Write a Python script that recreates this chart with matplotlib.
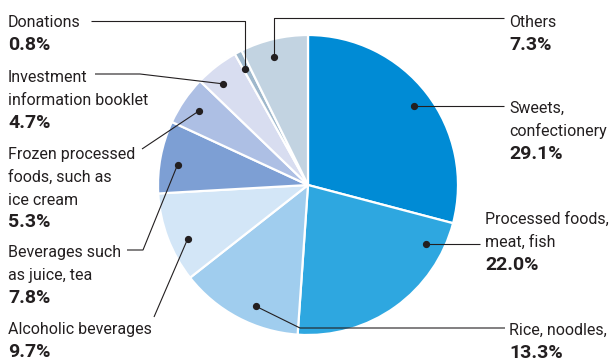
import numpy as np
import matplotlib
matplotlib.use("Agg")
from matplotlib import pyplot as plt

# Share of items by category, clockwise from 12 o'clock
categories = ["Sweets,\nconfectionery", "Processed foods,\nmeat, fish", "Rice, noodles,",
              "Alcoholic beverages", "Beverages such\nas juice, tea",
              "Frozen processed\nfoods, such as\nice cream",
              "Investment\ninformation booklet", "Donations", "Others"]
shares = [29.1, 22.0, 13.3, 9.7, 7.8, 5.3, 4.7, 0.8, 7.3]
colors = ["#008bd5", "#2ea7e0", "#a0cdee", "#d3e6f7", "#7d9fd4",
          "#adbfe4", "#d8ddf0", "#9fb8cc", "#c2d3e1"]

# where the leader dot sits inside each wedge (fraction of its sweep)
dot_frac = [0.51, 0.15, 0.40, 0.40, 0.43, 0.48, 0.36, 0.3, 0.43]

# label layout in pixels from the top-left corner
text_x = [509, 485, 509, 8, 8, 8, 8, 8, 509]
text_base = [113, 224, 335, 334, 257, 159, 82, 27, 27]
leaders = [
    [(504, None)],
    [(480, None)],
    [(300, 328), (505, 328)],
    [(154, 317)],
    [(143, 250), (127, 250)],
    [(142, 149)],
    [(140, 74), (95, 74)],
    [(None, 21), (91, 21)],
    [(None, 18), (504, 18)],
]

W, H = 612, 361
CX, CY, R = 308, 185, 150
STEP = 22.8
INK = "#231f20"

plt.rcParams['font.family'] = ['Roboto', 'DejaVu Sans']

fig = plt.figure(figsize=(W / 100, H / 100), dpi=100)
ax = fig.add_axes([0, 0, 1, 1])

ax.pie(shares, colors=colors, startangle=90, counterclock=False,
       radius=R, center=(CX, H - CY),
       wedgeprops=dict(edgecolor='white', linewidth=1.6))
ax.set_xlim(0, W)
ax.set_ylim(0, H)
ax.set_aspect('equal')
ax.axis('off')

start = 90.0
for name, v, frac, tx, tb, path in zip(categories, shares, dot_frac,
                                       text_x, text_base, leaders):
    sweep = 360 * v / 100
    ang = np.deg2rad(start - frac * sweep)
    start -= sweep
    dx = CX + 0.88 * R * np.cos(ang)
    dy = CY - 0.88 * R * np.sin(ang)   # top-down pixel y
    xs, ys = [dx], [dy]
    for px, py in path:
        xs.append(xs[-1] if px is None else px)
        ys.append(ys[-1] if py is None else py)
    ax.plot(xs, [H - y for y in ys], color=INK, lw=0.8, solid_capstyle='butt')
    ax.plot(dx, H - dy, 'o', color=INK, ms=4.2)

    lines = name.split("\n")
    for i, ln in enumerate(lines):
        ax.text(tx, H - (tb + i * STEP), ln, fontsize=11.5, color=INK,
                ha='left', va='baseline')
    ax.text(tx, H - (tb + len(lines) * STEP), f"{v:.1f}%", fontsize=14,
            fontweight='bold', color=INK, ha='left', va='baseline')

fig.savefig("out.png", dpi=100, facecolor='white')
